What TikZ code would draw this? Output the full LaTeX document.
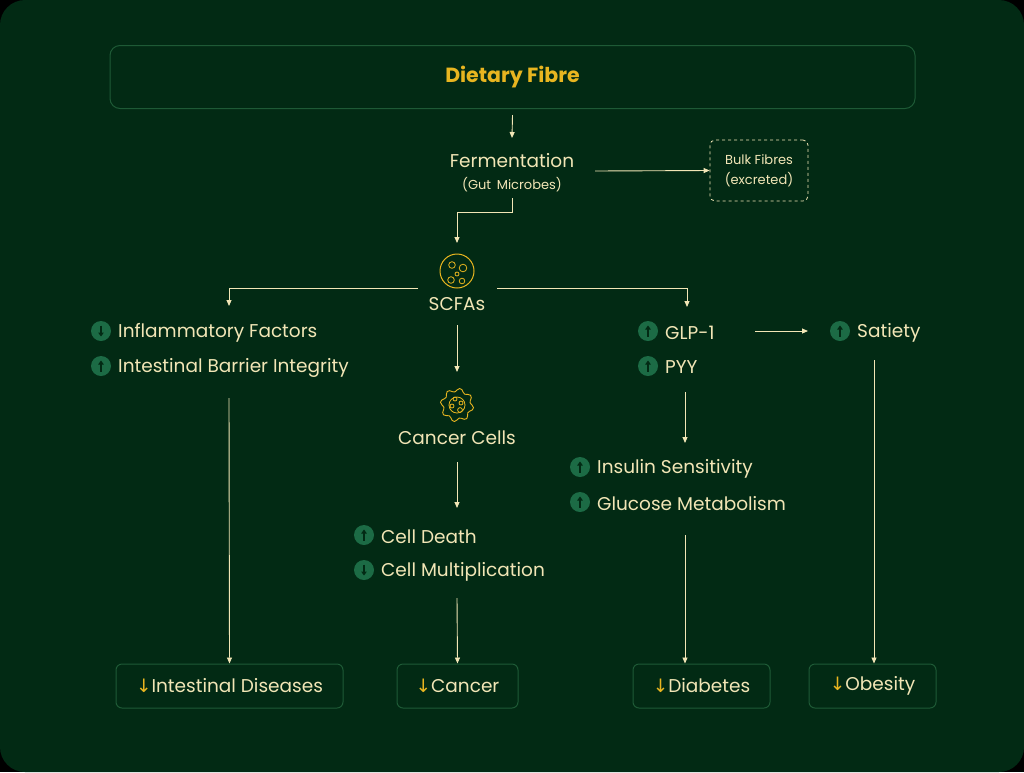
\documentclass[tikz,border=0pt]{standalone}
\usepackage{fontspec}
\setmainfont{Poppins}
\newfontfamily\sym{DejaVu Sans}
\usetikzlibrary{arrows.meta}
\definecolor{bg}{HTML}{022A14}
\definecolor{cream}{HTML}{F2E6B6}
\definecolor{gold}{HTML}{E8B520}
\definecolor{bord}{HTML}{1E5A36}
\definecolor{ic}{HTML}{1C6B45}
\begin{document}
\begin{tikzpicture}[x=1pt,y=-1pt,
 txt/.style={text=cream,font=\fontsize{18.5}{22}\selectfont,inner sep=0pt},
 lab/.style={txt,anchor=west,yshift=-1.5pt},
 obox/.style={draw=bord,line width=1pt,rounded corners=6pt,text=cream,font=\fontsize{18.5}{22}\selectfont,inner sep=0pt},
 con/.style={draw=cream,line width=0.9pt,-{Triangle[length=6pt,width=5pt]}},
 up/.pic={\fill[ic] (0,0) circle (10); \draw[bg,line width=1.5pt,-{Triangle[length=4pt,width=5.5pt]}] (0,5.5) -- (0,-5.5);},
 dn/.pic={\fill[ic] (0,0) circle (10); \draw[bg,line width=1.5pt,-{Triangle[length=4pt,width=5.5pt]}] (0,-5.5) -- (0,5.5);}]
\fill[black] (0,0) rectangle (1024,772);
\fill[bg,rounded corners=25pt] (0,0) rectangle (1024,772);
\useasboundingbox (0,0) rectangle (1024,772);
\node[obox,minimum width=805pt,minimum height=63pt,rounded corners=10pt,text=gold,font=\fontsize{20.5}{24}\selectfont\bfseries] (df) at (512.5,77) {Dietary Fibre};
\node[txt] (fer) at (512,161) {Fermentation};
\node[txt,font=\fontsize{13}{15}\selectfont] (gut) at (512,185) {(Gut\, Microbes)};
\node[draw=cream,dashed,line width=0.8pt,rounded corners=5pt,minimum width=98pt,minimum height=61pt,text=cream,align=center,font=\fontsize{13}{20}\selectfont] (bulk) at (759,170.5) {Bulk Fibres\\(excreted)};
\coordinate (ferR) at (595,171);
\draw[con] (df.south |- 0,115) -- (fer.north |- 0,138);
\draw[con] (ferR) -- (bulk.west);
% SCFA icon
\node[circle,draw=gold,line width=1pt,minimum size=34pt,inner sep=0pt] (sci) at (457,271) {};
\begin{scope}[gold,line width=0.8pt]
\draw (452,265) circle (3.3); \draw (463,268) circle (3.8); \draw (457,274) circle (2); \draw (451,280) circle (3.3); \draw (462,281) circle (2.8);
\end{scope}
\coordinate (gutB) at (512,198);
\draw[con] (gutB) -- (512,212) -- (457,212) -- (sci.north |- 0,243);
\node[txt] (sc) at (457,304) {SCFAs};
\coordinate (scL) at (418,288); \coordinate (scR) at (497,288);
\draw[con] (scL) -- (229,288) -- (229,306);
\draw[con] (scR) -- (687,288) -- (687,307);
% left column
\pic at (101,331) {dn}; \node[lab] (inf) at (118,331) {Inflammatory Factors};
\pic at (101,366) {up}; \node[lab] (ibi) at (118,366) {Intestinal Barrier Integrity};
\node[obox,minimum width=227pt,minimum height=44pt] (id) at (229.5,686) {{\sym\color{gold}↓}Intestinal Diseases};
\coordinate (ibiB) at (229,398);
\draw[con] (ibiB) -- (id.north);
% cancer column
\coordinate (scB) at (457,325);
\draw[con] (scB) -- (457,372);
\draw[gold,line width=0.9pt] plot[smooth cycle,samples=40,domain=0:351] ({457+(15+1.8*sin(8*\x))*cos(\x)},{405+(15+1.8*sin(8*\x))*sin(\x)});
\begin{scope}[gold,line width=0.8pt]
\draw (457,405) circle (8); \draw (455,399) circle (2); \draw (452,406) circle (2); \draw (461,403) circle (2); \draw (460,410) circle (2.4);
\end{scope}
\node[txt] (cc) at (457,438) {Cancer Cells};
\coordinate (ccB) at (457,462);
\draw[con] (ccB) -- (457,508);
\pic at (364,535) {up}; \node[lab] (cd) at (381,535) {Cell Death};
\pic at (364,570) {dn}; \node[lab] (cm) at (381,570) {Cell Multiplication};
\node[obox,minimum width=121pt,minimum height=44pt] (ca) at (457.5,686) {{\sym\color{gold}↓}Cancer};
\coordinate (cmB) at (457,598);
\draw[con] (cmB) -- (ca.north);
% GLP column
\pic at (648,331) {up}; \node[lab] (glp) at (665,331) {GLP-1};
\pic at (648,366) {up}; \node[lab] (pyy) at (665,366) {PYY};
\pic at (840,331) {up}; \node[lab] (sat) at (857,331) {Satiety};
\coordinate (glpR) at (755,331);
\draw[con] (glpR) -- (808,331);
\coordinate (pyyB) at (685,392);
\draw[con] (pyyB) -- (685,443);
\pic at (580,467) {up}; \node[lab] (ins) at (597,467) {Insulin Sensitivity};
\pic at (580,502) {up}; \node[lab] (glu) at (597,502) {Glucose Metabolism};
\node[obox,minimum width=137pt,minimum height=44pt] (dia) at (701.5,686) {{\sym\color{gold}↓}Diabetes};
\coordinate (gluB) at (685,535);
\draw[con] (gluB) -- (dia.north -| gluB);
\node[obox,minimum width=127pt,minimum height=44pt] (ob) at (872.5,686) {{\sym\color{gold}↓}Obesity};
\coordinate (satB) at (874,360);
\draw[con] (satB) -- (ob.north -| satB);
\end{tikzpicture}
\end{document}
